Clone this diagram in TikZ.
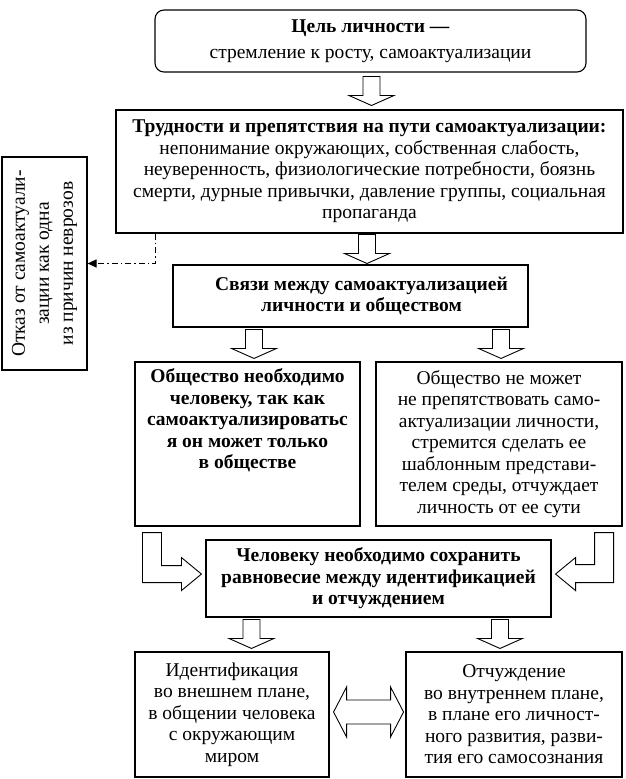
\documentclass[tikz,border=0pt]{standalone}
\usepackage{fontspec}
\setmainfont{Liberation Serif}
\usetikzlibrary{calc,arrows.meta}
\tikzset{
  box/.style={draw, line width=1.1pt, inner sep=0pt, align=center},
  arrline/.style={draw, line width=0.9pt, line join=miter, fill=white},
  dashdot/.style={line width=0.9pt, dash pattern=on 6pt off 3pt on 1.5pt off 3pt},
  pics/downarr/.style={code={\draw[arrline] (-8.5,-14.5) -- (-8.5,4.5) -- (-22.5,4.5) -- (0,14.5) -- (22.5,4.5) -- (8.5,4.5) -- (8.5,-14.5) -- cycle;}}
}
\begin{document}
\begin{tikzpicture}[x=1pt,y=-1pt,font=\fontsize{19.5}{21.5}\selectfont]
\useasboundingbox (0,0) rectangle (625,779);
\fill[white] (0,0) rectangle (625,779);
% boxes
\node[box, rounded corners=9pt, minimum width=431pt, minimum height=62pt] (b1) at (370.5,41)
  {\textbf{Цель личности —}\\[4pt] стремление к росту, самоактуализации};
\node[box, minimum width=507pt, minimum height=123pt] (b2) at (369.5,171.5)
  {\textbf{Трудности и препятствия на пути самоактуализации:}\\
   непонимание окружающих, собственная слабость,\\
   неуверенность, физиологические потребности, боязнь\\
   смерти, дурные привычки, давление группы, социальная\\
   пропаганда};
\node[box, rotate=90, minimum width=213pt, minimum height=85pt,
      font=\fontsize{19.5}{24}\selectfont] (bl) at (44.5,263.5)
  {Отказ от самоактуали-\\ зации как одна\\ из причин неврозов};
\node[box, minimum width=355pt, minimum height=62pt] (b3) at (350.5,296)
  {\hspace*{22pt}\parbox{320pt}{\centering\bfseries Связи между самоактуализацией\\ личности и обществом}};
\node[box, minimum width=225pt, minimum height=164pt] (b4l) at (247.5,444)
  {\parbox[c][150pt][t]{222pt}{\centering\bfseries
   Общество необходимо\\ человеку, так как\\ самоактуализироватьс\\ я он может только\\ в обществе}};
\node[box, minimum width=246pt, minimum height=164pt] (b4r) at (499,444)
  {Общество не может\\ не препятствовать само-\\ актуализации личности,\\
   стремится сделать ее\\ шаблонным представи-\\ телем среды, отчуждает\\ личность от ее сути};
\node[box, minimum width=345pt, minimum height=77pt, font=\fontsize{19.5}{21.5}\selectfont\bfseries] (b5) at (378.5,578.5)
  {Человеку необходимо сохранить\\ равновесие между идентификацией\\ и отчуждением};
\node[box, minimum width=194pt, minimum height=125pt] (b6l) at (232,714.5)
  {Идентификация\\ во внешнем плане,\\ в общении человека\\ с окружающим\\ миром};
\node[box, minimum width=216pt, minimum height=125pt] (b6r) at (514,714.5)
  {Отчуждение\\ во внутреннем плане,\\ в плане его личност-\\ ного развития, разви-\\ тия его самосознания};
% straight hollow arrows
\pic at ($($(b1.south)!.5!(b2.north)$)+(1.5,0)$) {downarr};
\pic at ($($(b2.south)!.5!(b3.north)$)+(7,0)$) {downarr};
\pic at ($(b4l.north)+(6.5,-17.5)$) {downarr};
\pic at ($(b4r.north)+(2,-17.5)$) {downarr};
\pic at ($(b6l.north)+(19.5,-17.5)$) {downarr};
\pic at ($(b6r.north)+(-14,-17.5)$) {downarr};
% bent arrows
\draw[arrline] ($(b4l.south west)+(8,6)$) -- ++(19,0) -- ++(0,33) -- ++(20,0) -- ++(0,-8)
  -- ++(20,16.5) -- ++(-20,16.5) -- ++(0,-8) -- ++(-39,0) -- cycle;
\draw[arrline] ($(b4r.south east)+(-9,6)$) -- ++(-19,0) -- ++(0,32) -- ++(-19,0) -- ++(0,-7)
  -- ++(-20,16.5) -- ++(20,16.5) -- ++(0,-8) -- ++(38,0) -- cycle;
% double arrow
\draw[arrline] ($(b6l.east)+(4,-2.5)$) -- ++(13,-25) -- ++(0,13) -- ++(44,0) -- ++(0,-13)
  -- ++(13,25) -- ++(-13,25) -- ++(0,-13) -- ++(-44,0) -- ++(0,13) -- cycle;
% dash-dot connector
\draw[dashdot, -{Triangle[length=9pt,width=8pt]}] ($(b2.south west)+(40,0)$) |- (bl.south);
\end{tikzpicture}
\end{document}
